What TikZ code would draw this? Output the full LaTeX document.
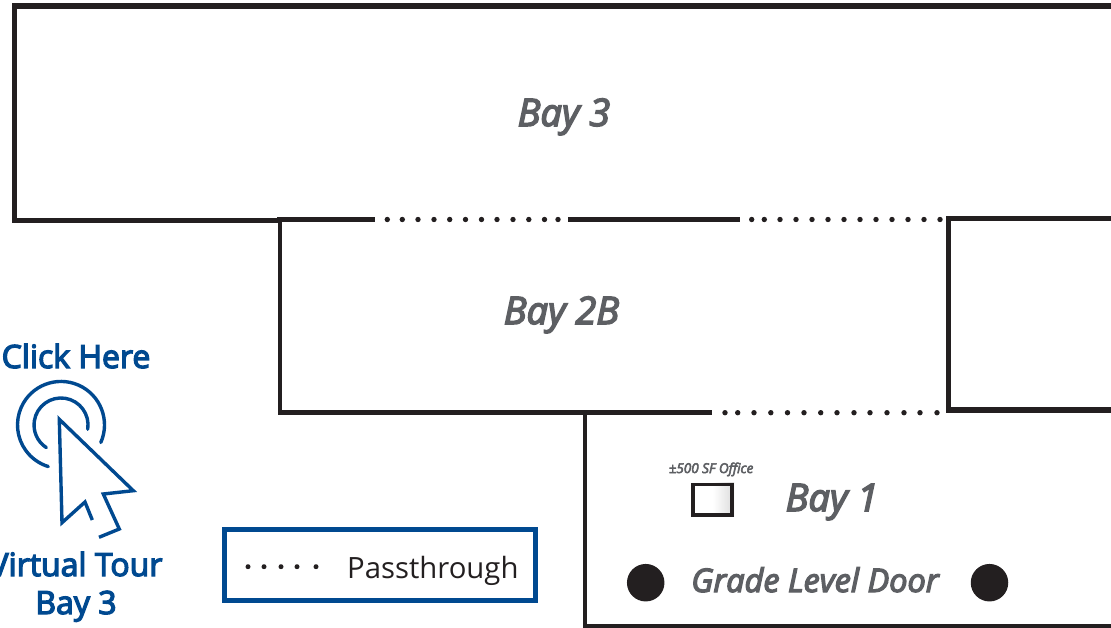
\documentclass[tikz,border=0pt]{standalone}
\usepackage{fontspec}
\setmainfont{Open Sans}
\newfontfamily\semif{Open Sans}[FakeBold=4]
\definecolor{wall}{HTML}{231F20}
\definecolor{label}{HTML}{5D5F63}
\definecolor{tour}{HTML}{004990}
\begin{document}
\begin{tikzpicture}[x=1pt,y=-1pt,
  wallline/.style={draw=wall,line width=5.4pt,line cap=butt,line join=miter},
  innerwall/.style={draw=wall,line width=4.5pt,line cap=butt,line join=miter},
  pass/.style={fill=wall,circle,inner sep=0pt,minimum size=5.4pt},
  baylabel/.style={text=label,font=\semif\itshape\fontsize{38}{38}\selectfont,anchor=base,inner sep=0pt},
  tourlabel/.style={text=tour,font=\semif\fontsize{32}{32}\selectfont,anchor=base,inner sep=0pt},
  iconline/.style={draw=tour,line width=3.4pt,line join=miter,line cap=round}]
\useasboundingbox (0,0) rectangle (1111,628);
\clip (0,0) rectangle (1111,628);
% walls
\draw[wallline] (1111,6) -- (14.7,6) -- (14.7,220.5) -- (280,220.5);
\draw[innerwall] (277,219.5) -- (375,219.5);
\draw[innerwall] (568,219.5) -- (740,219.5);
\draw[innerwall] (280,219.5) -- (280,412.7) -- (712,412.7);
\draw[wallline] (1111,218.5) -- (948.5,218.5) -- (948.5,410) -- (1111,410);
\draw[innerwall] (585,412.7) -- (585,626.5) -- (1111,626.5);
% passthrough dots
\foreach \x in {387.3,402.3,418,434,449.7,465.5,481.5,497,513,528.8,544.5,558}
  \node[pass] at (\x,219.5) {};
\foreach \x in {751.7,764.3,780,796,812,828,844,860,876,892,908,924,940}
  \node[pass] at (\x,219.5) {};
\foreach \x in {725,737.7,754,770.8,787.5,804,820.7,837,854,870,887,904,920,937}
  \node[pass] at (\x,412.7) {};
% labels
\node[baylabel] (bay3) at (564,126) {Bay 3};
\node[baylabel] (bay2b) at (561.5,324) {Bay 2B};
\node[baylabel] (bay1) at (832,511) {Bay 1};
\node[baylabel,font=\semif\itshape\fontsize{32.5}{32.5}\selectfont] (door) at (815,592) {Grade Level Door};
\node[text=label,font=\semif\itshape\fontsize{13.5}{13.5}\selectfont,anchor=base,inner sep=0pt] (office) at (711,473) {±500 SF Office};
% office
\shade[left color=white,right color=black!14,middle color=white] (691,482.5) rectangle (734,516.5);
\draw[draw=wall,line width=3.8pt] (692.9,484.4) rectangle (732.1,514.6);
% doors
\node[fill=wall,circle,inner sep=0pt,minimum size=37.5pt] (doorA) at (645.7,582.7) {};
\node[fill=wall,circle,inner sep=0pt,minimum size=37.5pt] (doorB) at (989.5,582.7) {};
% tour icon
\node[tourlabel] (click) at (76,368) {Click Here};
\draw[iconline] (100.8,442.5) arc[start angle=23.8,end angle=-253,radius=43.5];
\draw[iconline] (87.7,429.2) arc[start angle=9,end angle=-237,radius=27];
\draw[iconline,line cap=butt] (92.3,520) -- (85,502) -- (62,522.7) -- (59.3,419.3) -- (133.3,490.7) -- (103.3,494) -- (119.3,529) -- (99,537.3);
\node[tourlabel] (virtual) at (76,576) {Virtual Tour};
\node[tourlabel] (bay3b) at (76,614) {Bay 3};
% legend
\draw[draw=tour,line width=5pt] (224,529.5) rectangle (535,600);
\foreach \x in {248,264,281,297,316}
  \node[fill=wall,circle,inner sep=0pt,minimum size=5pt] at (\x,566.7) {};
\node[text=wall,font=\fontsize{29.3}{29.3}\selectfont,anchor=base west,inner sep=0pt] (legend) at (347,578) {Passthrough};
\end{tikzpicture}
\end{document}
